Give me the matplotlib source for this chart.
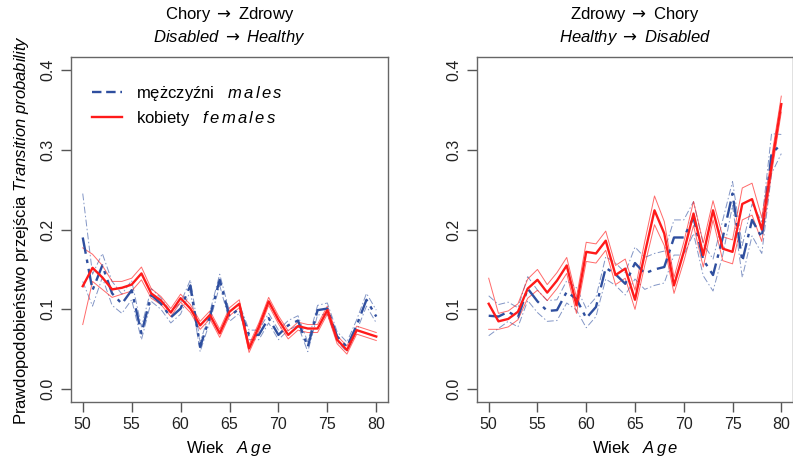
import numpy as np
import matplotlib
matplotlib.use('Agg')
from matplotlib import pyplot as plt
from matplotlib.lines import Line2D

plt.rcParams['font.family'] = ['Liberation Sans', 'DejaVu Sans']
plt.rcParams['mathtext.fontset'] = 'custom'
plt.rcParams['mathtext.it'] = 'Liberation Sans:italic'
plt.rcParams['mathtext.rm'] = 'Liberation Sans'
plt.rcParams['mathtext.sf'] = 'DejaVu Sans'

# Wiek / Age
ages = np.arange(50, 81)

# Chory -> Zdrowy (Disabled -> Healthy)
dh_males = [0.190, 0.124, 0.155, 0.120, 0.107, 0.124, 0.070, 0.118, 0.107, 0.090,
            0.101, 0.130, 0.053, 0.091, 0.137, 0.091, 0.101, 0.068, 0.068, 0.089,
            0.068, 0.080, 0.086, 0.053, 0.099, 0.101, 0.066, 0.053, 0.080, 0.112, 0.091]
dh_males_hw = [0.055, 0.020, 0.015, 0.015, 0.012, 0.012, 0.008, 0.008, 0.007, 0.007,
               0.007, 0.007, 0.006, 0.006, 0.007, 0.006, 0.006, 0.006, 0.006, 0.006,
               0.006, 0.006, 0.006, 0.006, 0.006, 0.007, 0.006, 0.006, 0.007, 0.008, 0.008]
dh_females = [0.129, 0.152, 0.140, 0.125, 0.127, 0.131, 0.145, 0.120, 0.111, 0.096,
              0.114, 0.101, 0.080, 0.093, 0.070, 0.097, 0.107, 0.051, 0.078, 0.110,
              0.087, 0.068, 0.079, 0.076, 0.076, 0.099, 0.062, 0.049, 0.074, 0.070, 0.066]
dh_females_hw = [0.048, 0.017, 0.015, 0.010, 0.008, 0.008, 0.008, 0.006, 0.005, 0.005,
                 0.005, 0.005, 0.005, 0.005, 0.005, 0.005, 0.005, 0.005, 0.005, 0.005,
                 0.005, 0.005, 0.005, 0.005, 0.005, 0.005, 0.005, 0.005, 0.005, 0.005, 0.005]

# Zdrowy -> Chory (Healthy -> Disabled)
hd_males = [0.092, 0.091, 0.097, 0.090, 0.126, 0.110, 0.098, 0.099, 0.122, 0.113,
            0.089, 0.103, 0.152, 0.144, 0.132, 0.158, 0.145, 0.150, 0.153, 0.190,
            0.190, 0.215, 0.162, 0.143, 0.190, 0.245, 0.160, 0.212, 0.190, 0.295, 0.307]
hd_males_hw = [0.025, 0.015, 0.012, 0.012, 0.015, 0.014, 0.013, 0.013, 0.014, 0.014,
               0.012, 0.012, 0.014, 0.014, 0.014, 0.020, 0.020, 0.020, 0.020, 0.022,
               0.022, 0.020, 0.020, 0.020, 0.022, 0.015, 0.020, 0.020, 0.020, 0.025, 0.012]
hd_females = [0.107, 0.085, 0.088, 0.097, 0.126, 0.137, 0.121, 0.136, 0.155, 0.105,
              0.172, 0.170, 0.186, 0.143, 0.151, 0.112, 0.170, 0.224, 0.195, 0.130,
              0.172, 0.220, 0.168, 0.224, 0.176, 0.172, 0.232, 0.238, 0.200, 0.280, 0.357]
hd_females_hw = [0.032, 0.010, 0.010, 0.010, 0.012, 0.013, 0.010, 0.010, 0.010, 0.010,
                 0.012, 0.012, 0.012, 0.012, 0.012, 0.012, 0.015, 0.018, 0.015, 0.010,
                 0.012, 0.015, 0.015, 0.012, 0.015, 0.015, 0.020, 0.020, 0.015, 0.010, 0.010]

blue = '#2f4f9f'
red = '#ff1a1a'
dashdot = (0, (7, 2.5, 1.5, 2.5))
arrow = '$\\mathsf{\\rightarrow}$'

fig = plt.figure(figsize=(7.93, 4.57), dpi=100)
ax1 = fig.add_axes([71 / 793, 1 - 402 / 457, 317 / 793, 345 / 457])
ax2 = fig.add_axes([477 / 793, 1 - 402 / 457, 316 / 793, 345 / 457])


def draw(ax, m, m_hw, f, f_hw):
    m = np.array(m)
    m_hw = np.array(m_hw)
    f = np.array(f)
    f_hw = np.array(f_hw)
    for band in (m - m_hw, m + m_hw):
        ax.plot(ages, band, color=blue, lw=0.7, alpha=0.6, linestyle=dashdot)
    for band in (f - f_hw, f + f_hw):
        ax.plot(ages, band, color=red, lw=0.7, alpha=0.65)
    ax.plot(ages, m, color=blue, lw=1.7, linestyle=dashdot)
    ax.plot(ages, f, color=red, lw=1.7)
    ax.set_xlim(48.8, 81.2)
    ax.set_ylim(-0.016, 0.416)
    ax.set_xticks([50, 55, 60, 65, 70, 75, 80])
    ax.set_yticks([0.0, 0.1, 0.2, 0.3, 0.4])
    ax.set_yticklabels(['0.0', '0.1', '0.2', '0.3', '0.4'], rotation=90, va='center')
    ax.tick_params(direction='out', length=7, width=1, colors='#555555',
                   labelcolor='#222222', labelsize=11.5, pad=4)
    for s in ax.spines.values():
        s.set_color('#666666')
        s.set_linewidth(1)
    ax.set_xlabel('Wiek   $\\it{A\\,g\\,e}$', fontsize=12, labelpad=5)


draw(ax1, dh_males, dh_males_hw, dh_females, dh_females_hw)
draw(ax2, hd_males, hd_males_hw, hd_females, hd_females_hw)

ax1.set_title('Chory ' + arrow + ' Zdrowy\n$\\it{Disabled}$ ' + arrow + ' $\\it{Healthy}$',
              fontsize=12, linespacing=1.25, pad=11)
ax2.set_title('Zdrowy ' + arrow + ' Chory\n$\\it{Healthy}$ ' + arrow + ' $\\it{Disabled}$',
              fontsize=12, linespacing=1.25, pad=11)
ax1.set_ylabel('Prawdopodobie\u0144stwo przej\u015bcia $\\it{Transition\\ probability}$',
               fontsize=12, labelpad=7)

handles = [Line2D([], [], color=blue, lw=1.7, linestyle=(0, (4, 2))),
           Line2D([], [], color=red, lw=1.7)]
ax1.legend(handles, ['m\u0119\u017cczy\u017ani   $\\it{m\\,a\\,l\\,e\\,s}$',
                     'kobiety   $\\it{f\\,e\\,m\\,a\\,l\\,e\\,s}$'],
           loc='upper left', frameon=False, fontsize=12, handlelength=1.8,
           handletextpad=0.8, bbox_to_anchor=(0.02, 0.965), labelspacing=0.35)

fig.savefig('out.png', dpi=100)
